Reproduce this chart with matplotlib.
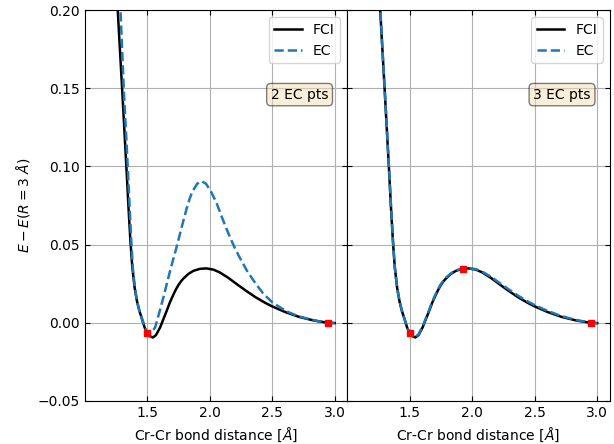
import matplotlib
matplotlib.use('Agg')
import matplotlib.pyplot as plt

# FCI curve
r_fci = [1.255, 1.264, 1.28, 1.299, 1.316, 1.333, 1.35, 1.365, 1.38, 1.399,
         1.418, 1.437, 1.458, 1.479, 1.50, 1.52, 1.545, 1.57, 1.603, 1.63,
         1.656, 1.68, 1.709, 1.73, 1.75, 1.77, 1.788, 1.83, 1.868, 1.92,
         1.974, 2.03, 2.079, 2.15, 2.212, 2.29, 2.37, 2.45, 2.50, 2.60,
         2.714, 2.83, 2.947, 3.0]
e_fci = [0.215, 0.200, 0.177, 0.150, 0.125, 0.100, 0.074, 0.053, 0.036, 0.0226,
         0.0138, 0.0077, 0.0025, -0.0030, -0.0068, -0.0085, -0.0094, -0.0079, -0.0030, 0.0025,
         0.0077, 0.0128, 0.0180, 0.0214, 0.0242, 0.0265, 0.0282, 0.0313, 0.0332, 0.0345,
         0.0348, 0.0340, 0.0323, 0.0287, 0.0250, 0.0205, 0.0162, 0.0125, 0.0105, 0.0070,
         0.0038, 0.0015, 0.0, -0.0002]

# EC with 2 sample points
r_ec2 = [1.275, 1.286, 1.312, 1.328, 1.344, 1.358, 1.372, 1.385, 1.40, 1.418,
         1.437, 1.458, 1.479, 1.50, 1.52, 1.54, 1.563, 1.60, 1.63, 1.66,
         1.683, 1.73, 1.78, 1.815, 1.84, 1.86, 1.90, 1.934, 1.97, 2.01,
         2.053, 2.10, 2.15, 2.20, 2.238, 2.30, 2.37, 2.43, 2.502, 2.57,
         2.635, 2.71, 2.794, 2.87, 2.947, 3.0]
e_ec2 = [0.225, 0.200, 0.150, 0.125, 0.100, 0.076, 0.053, 0.035, 0.0235, 0.0138,
         0.0078, 0.0025, -0.0028, -0.0068, -0.0070, -0.0055, -0.0030, 0.0075, 0.0165, 0.0260,
         0.0333, 0.0470, 0.0625, 0.0730, 0.0795, 0.0838, 0.0890, 0.0906, 0.0890, 0.0840,
         0.0770, 0.0670, 0.0570, 0.0480, 0.0420, 0.0330, 0.0248, 0.0185, 0.0130, 0.0095,
         0.0066, 0.0042, 0.0024, 0.0010, 0.0, -0.0001]

# EC with 3 sample points (on the FCI grid)
e_ec3 = [0.217, 0.202, 0.178, 0.151, 0.126, 0.101, 0.075, 0.054, 0.036, 0.0228,
         0.0139, 0.0078, 0.0025, -0.0030, -0.0068, -0.0083, -0.0090, -0.0074, -0.0024, 0.0030,
         0.0083, 0.0134, 0.0186, 0.0220, 0.0248, 0.0271, 0.0287, 0.0317, 0.0336, 0.0347,
         0.0350, 0.0343, 0.0328, 0.0294, 0.0259, 0.0215, 0.0172, 0.0134, 0.0113, 0.0077,
         0.0043, 0.0018, 0.0, -0.0002]

pts2_r = [1.5, 2.947]
pts2_e = [-0.0068, 0.0]
pts3_r = [1.5, 1.925, 2.947]
pts3_e = [-0.0068, 0.0345, 0.0]

panels = [(r_ec2, e_ec2, pts2_r, pts2_e, '2 EC pts'),
          (r_fci, e_ec3, pts3_r, pts3_e, '3 EC pts')]

fig, axes = plt.subplots(1, 2, sharey=True, figsize=(6.14, 4.44), dpi=100)
fig.subplots_adjust(left=0.138, right=0.993, top=0.977, bottom=0.097, wspace=0)

for ax, (r_ec, e_ec, pr, pe, label) in zip(axes, panels):
    ax.plot(r_fci, e_fci, color='black', lw=1.8, label='FCI')
    ax.plot(r_ec, e_ec, '--', color='C0', lw=1.8, label='EC')
    ax.plot(pr, pe, 's', color='red', ms=5, zorder=5)
    ax.set_xlim(1.0, 3.1)
    ax.set_ylim(-0.05, 0.20)
    ax.set_xticks([1.5, 2.0, 2.5, 3.0])
    ax.set_yticks([-0.05, 0.0, 0.05, 0.10, 0.15, 0.20])
    ax.grid(True)
    ax.tick_params(direction='in', top=True, right=True, labelsize=10)
    ax.set_xlabel(r'Cr-Cr bond distance [$\AA$]')
    ax.legend(loc='upper right')
    ax.text(0.928, 0.784, label, transform=ax.transAxes, ha='right', va='center',
            fontsize=10, bbox=dict(boxstyle='round', facecolor='wheat', alpha=0.5))

axes[0].set_ylabel(r'$E-E(R=3\ \AA)$')
fig.savefig('out.png')
